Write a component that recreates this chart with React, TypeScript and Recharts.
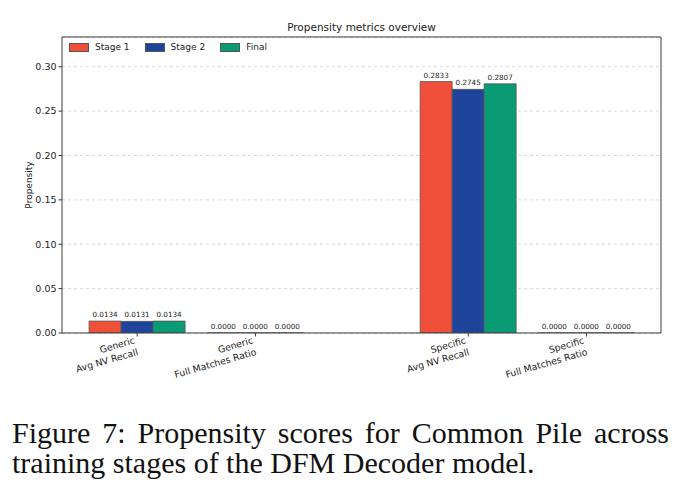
import React from "react";
import {
  BarChart,
  Bar,
  XAxis,
  YAxis,
  CartesianGrid,
  ReferenceLine,
  LabelList,
} from "recharts";

// metric groups along the x axis
const GROUPS = ["Generic", "Generic", "Specific", "Specific"];
const METRICS = ["Avg NV Recall", "Full Matches Ratio", "Avg NV Recall", "Full Matches Ratio"];

// propensity per training stage
const STAGE_1 = [0.0134, 0.0, 0.2833, 0.0];
const STAGE_2 = [0.0131, 0.0, 0.2745, 0.0];
const FINAL = [0.0134, 0.0, 0.2807, 0.0];

const Y_TICKS = [0, 0.05, 0.1, 0.15, 0.2, 0.25, 0.3];

const SERIES = [
  { key: "stage1", name: "Stage 1", color: "#F05039" },
  { key: "stage2", name: "Stage 2", color: "#1F449C" },
  { key: "final", name: "Final", color: "#0A9B74" },
];

// extra space between the generic and specific blocks
const GROUP_GAP = 0.8;
const X_DOMAIN: [number, number] = [-0.636, 4.43];
const Y_MAX = 0.3335;

const xPos = (i: number) => i + (i >= 2 ? GROUP_GAP : 0);

const data = METRICS.map((m, i) => ({
  x: xPos(i),
  group: GROUPS[i],
  metric: m,
  stage1: STAGE_1[i],
  stage2: STAGE_2[i],
  final: FINAL[i],
}));

const X_TICKS = data.map((d) => d.x);

const AXIS = "#3a3a3a";
const FONT = "'DejaVu Sans', sans-serif";

const XTick = (props: any) => {
  const { x, y, payload } = props;
  const idx = X_TICKS.findIndex((t) => Math.abs(t - payload.value) < 1e-6);
  if (idx < 0) return null;
  return (
    <g transform={`translate(${x - 4},${y - 3}) rotate(-16)`}>
      <text x={0} y={8} textAnchor="end" fontSize={9.3} fill="#222" fontFamily={FONT}>
        {GROUPS[idx]}
      </text>
      <text x={0} y={20} textAnchor="end" fontSize={9.3} fill="#222" fontFamily={FONT}>
        {METRICS[idx]}
      </text>
    </g>
  );
};

// always print the value, even for zero-height bars
const ValueLabel = (props: any) => {
  const { x, y, width, value } = props;
  if (x == null || y == null) return null;
  return (
    <text
      x={Number(x) + Number(width) / 2}
      y={Number(y) - 4}
      textAnchor="middle"
      fontSize={7.2}
      fill="#222"
      fontFamily={FONT}
    >
      {Number(value).toFixed(4)}
    </text>
  );
};

const Legend = () => (
  <div
    style={{
      position: "absolute",
      left: 69,
      top: 42,
      display: "flex",
      alignItems: "center",
      fontFamily: FONT,
      fontSize: 9,
      color: "#222",
    }}
  >
    {SERIES.map((s) => (
      <div key={s.key} style={{ display: "flex", alignItems: "center", marginRight: 15 }}>
        <span
          style={{
            display: "inline-block",
            width: 18,
            height: 7,
            background: s.color,
            border: "0.8px solid #555",
            marginRight: 6,
          }}
        />
        {s.name}
      </div>
    ))}
  </div>
);

export default function App() {
  return (
    <div
      style={{
        position: "absolute",
        left: 0,
        top: 0,
        width: 686,
        height: 502,
        background: "#fff",
        overflow: "hidden",
      }}
    >
      <div
        style={{
          position: "absolute",
          left: 62,
          width: 599,
          top: 21,
          textAlign: "center",
          fontFamily: FONT,
          fontSize: 10.5,
          color: "#222",
        }}
      >
        Propensity metrics overview
      </div>
      <div
        style={{
          position: "absolute",
          left: 29,
          top: 185,
          transform: "translate(-50%, -50%) rotate(-90deg)",
          fontFamily: FONT,
          fontSize: 9,
          color: "#222",
          whiteSpace: "nowrap",
        }}
      >
        Propensity
      </div>
      <BarChart
        width={686}
        height={400}
        data={data}
        margin={{ top: 37, right: 25, left: 0, bottom: 0 }}
        barGap={0}
      >
        <CartesianGrid vertical={false} stroke="#d8d8d8" strokeDasharray="3 3" />
        <XAxis
          dataKey="x"
          type="number"
          domain={X_DOMAIN}
          ticks={X_TICKS}
          allowDataOverflow
          height={67}
          tick={<XTick />}
          tickSize={3.5}
          axisLine={{ stroke: AXIS, strokeWidth: 1 }}
          tickLine={{ stroke: AXIS }}
          interval={0}
        />
        <YAxis
          type="number"
          domain={[0, Y_MAX]}
          ticks={Y_TICKS}
          allowDataOverflow
          width={62}
          tickFormatter={(v: number) => v.toFixed(2)}
          tick={{ fontSize: 9.5, fill: "#222", fontFamily: FONT }}
          tickSize={3.5}
          axisLine={{ stroke: AXIS, strokeWidth: 1 }}
          tickLine={{ stroke: AXIS }}
        />
        <ReferenceLine y={Y_MAX} stroke={AXIS} strokeWidth={1} />
        <ReferenceLine x={X_DOMAIN[1]} stroke={AXIS} strokeWidth={1} />
        {SERIES.map((s) => (
          <Bar
            key={s.key}
            dataKey={s.key}
            name={s.name}
            fill={s.color}
            stroke="#555"
            strokeWidth={0.8}
            barSize={32}
            minPointSize={0.01}
            isAnimationActive={false}
          >
            <LabelList dataKey={s.key} content={<ValueLabel />} />
          </Bar>
        ))}
      </BarChart>
      <Legend />
      <div
        style={{
          position: "absolute",
          left: 12,
          width: 657,
          top: 418,
          fontFamily: "'Liberation Serif', serif",
          fontSize: 30,
          lineHeight: "30px",
          color: "#111",
          whiteSpace: "nowrap",
        }}
      >
        <div style={{ textAlign: "justify", textAlignLast: "justify" } as any}>
          Figure 7: Propensity scores for Common Pile across
        </div>
        <div>training stages of the DFM Decoder model.</div>
      </div>
    </div>
  );
}
